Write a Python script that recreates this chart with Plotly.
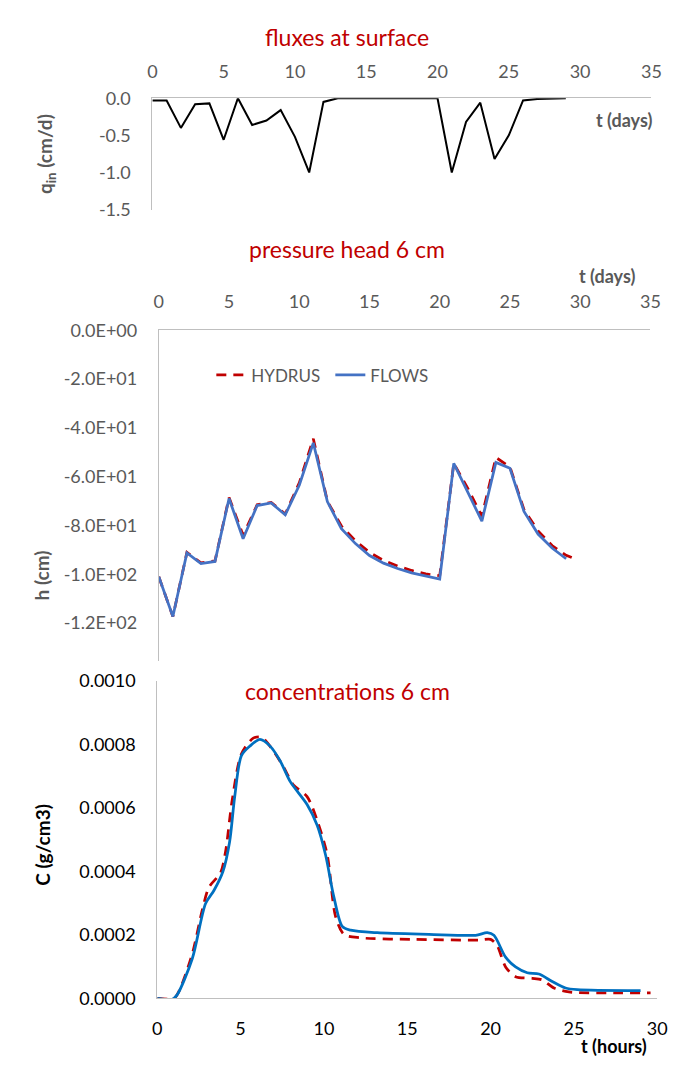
import plotly.graph_objects as go

# ---------------- data ----------------
flux_days = list(range(0, 30))
flux_q = [-0.03, -0.03, -0.40, -0.08, -0.07, -0.56, 0.0, -0.36, -0.30, -0.16,
          -0.52, -1.0, -0.05, 0.0, 0.0, 0.0, 0.0, 0.0, 0.0, 0.0,
          0.0, -1.0, -0.32, -0.06, -0.82, -0.50, -0.03, -0.01, 0.0, 0.0]

h_days_flows = list(range(0, 30))
h_flows = [-101.0, -117.3, -91.2, -95.6, -94.7, -68.9, -85.4, -71.8, -70.7, -75.6,
           -63.5, -46.1, -70.2, -81.3, -87.4, -92.3, -95.4, -97.6, -99.4, -100.7,
           -101.9, -54.5, -66.1, -78.2, -54.1, -56.5, -74.2, -83.5, -89.2, -93.6]
h_days_hydrus = list(range(0, 30)) + [29.6]
h_hydrus = [-101.0, -117.3, -91.0, -95.3, -94.5, -68.5, -84.0, -71.5, -70.5, -75.3,
            -62.5, -44.4, -70.0, -80.2, -86.2, -91.0, -94.3, -96.6, -98.4, -99.8,
            -100.6, -54.5, -64.8, -76.2, -52.1, -56.0, -73.5, -82.2, -88.2, -92.2, -93.6]

c_t_flows = [0, 0.9, 1.2, 2.1, 2.9, 3.4, 3.94, 4.34, 4.65, 5.05, 5.56, 6.16, 6.77, 7.37,
             7.98, 8.99, 9.6, 10.1, 10.6, 11.1, 11.6, 13.2, 16.3, 19.1, 19.8, 20.2, 20.9,
             21.5, 22.2, 22.9, 23.7, 24.5, 25.2, 29.0]
c_flows = [0, -0.000003, 0.000012, 0.000125, 0.000299, 0.00034, 0.0004, 0.000493, 0.000637,
           0.000765, 0.000795, 0.000816, 0.000795, 0.000749, 0.000683, 0.000611, 0.000545,
           0.000452, 0.000319, 0.000227, 0.000215, 0.000207, 0.000202, 0.000199, 0.000207,
           0.000199, 0.00013, 0.0000993, 0.0000809, 0.0000768, 0.0000532, 0.0000328,
           0.0000276, 0.0000246]
c_t_hydrus = [0, 1.0, 1.3, 2.1, 2.7, 3.1, 3.8, 4.1, 4.5, 5.05, 5.76, 6.26, 6.97, 7.58, 8.18,
              8.99, 9.6, 10.2, 10.7, 11.2, 12.2, 15.3, 19.3, 20.0, 20.4, 20.9, 21.5, 22.5,
              23.1, 23.8, 24.7, 27.4, 29.6]
c_hydrus = [0, 0, 0.0000225, 0.00014, 0.000278, 0.00035, 0.000396, 0.000463, 0.000626,
            0.00077, 0.00082, 0.000823, 0.00078, 0.000729, 0.000672, 0.000636, 0.00056,
            0.000452, 0.000258, 0.000202, 0.000191, 0.000186, 0.000184, 0.000186, 0.000166,
            0.0000993, 0.0000686, 0.0000635, 0.0000583, 0.0000328, 0.0000205, 0.0000174,
            0.0000174]

days_ticks = [0, 5, 10, 15, 20, 25, 30, 35]
hours_ticks = [0, 5, 10, 15, 20, 25, 30]
q_ticks = [0.0, -0.5, -1.0, -1.5]
h_ticks = [0, -20, -40, -60, -80, -100, -120]
c_ticks = [0.0, 0.0002, 0.0004, 0.0006, 0.0008, 0.0010]

# ---------------- layout helpers ----------------
W, H = 678, 1077
def xd(x0, x1):
    return [x0 / W, x1 / W]
def yd(top, bottom):
    return [1 - bottom / H, 1 - top / H]
def py(y):
    return 1 - y / H
def px(x):
    return x / W

FONT = "Lato"
GRAY = "#595959"
AX = "#bfbfbf"
RED = "#c00000"

fig = go.Figure()

# top: fluxes
fig.add_trace(go.Scatter(x=flux_days, y=flux_q, mode="lines", line=dict(color="black", width=2),
                         xaxis="x", yaxis="y", showlegend=False, hoverinfo="skip"))
# middle: pressure head
fig.add_trace(go.Scatter(x=h_days_hydrus, y=h_hydrus, mode="lines", name="HYDRUS",
                         line=dict(color=RED, width=2.75, dash="10px,7px"),
                         xaxis="x2", yaxis="y2", hoverinfo="skip"))
fig.add_trace(go.Scatter(x=h_days_flows, y=h_flows, mode="lines", name="FLOWS",
                         line=dict(color="#4472c4", width=2.75),
                         xaxis="x2", yaxis="y2", hoverinfo="skip"))
# bottom: concentrations
fig.add_trace(go.Scatter(x=c_t_hydrus, y=c_hydrus, mode="lines", name="HYDRUS",
                         line=dict(color=RED, width=2.75, dash="10px,7px", shape="spline", smoothing=0.8),
                         xaxis="x3", yaxis="y3", showlegend=False, hoverinfo="skip"))
fig.add_trace(go.Scatter(x=c_t_flows, y=c_flows, mode="lines", name="FLOWS",
                         line=dict(color="#0070c0", width=2.75, shape="spline", smoothing=0.8),
                         xaxis="x3", yaxis="y3", showlegend=False, hoverinfo="skip"))

tickfont_gray = dict(family=FONT, size=18, color=GRAY)
tickfont_black = dict(family=FONT, size=18, color="black")

common_x = dict(showgrid=False, zeroline=False, showline=True, linecolor=AX, linewidth=1,
                ticks="", fixedrange=True)
common_y = dict(showgrid=False, zeroline=False, showline=True, linecolor=AX, linewidth=1,
                ticks="", fixedrange=True)

fig.update_layout(
    width=W, height=H, autosize=False,
    margin=dict(l=0, r=0, t=0, b=0),
    paper_bgcolor="white", plot_bgcolor="white",
    font=dict(family=FONT, color=GRAY),
    xaxis=dict(common_x, domain=xd(150.7, 661), anchor="y", side="top", range=[0, 35],
               tickvals=days_ticks, tickfont=tickfont_gray, ticklabelstandoff=12),
    yaxis=dict(common_y, domain=yd(88, 201.7), anchor="x", range=[-1.5, 0],
               tickvals=q_ticks, ticktext=["0.0", "-0.5", "-1.0", "-1.5"],
               tickfont=tickfont_gray, ticklabelstandoff=17),
    xaxis2=dict(common_x, domain=xd(157.3, 660), anchor="y2", side="top", range=[0, 35],
                tickvals=days_ticks, tickfont=tickfont_gray, ticklabelstandoff=14),
    yaxis2=dict(common_y, domain=yd(325, 663), anchor="x2", range=[-135.7, 0],
                tickvals=h_ticks,
                ticktext=["0.0E+00", "-2.0E+01", "-4.0E+01", "-6.0E+01", "-8.0E+01",
                          "-1.0E+02", "-1.2E+02"],
                tickfont=tickfont_gray, ticklabelstandoff=17),
    xaxis3=dict(common_x, domain=xd(155.7, 667), anchor="y3", side="bottom", range=[0, 30],
                tickvals=hours_ticks, tickfont=tickfont_black, ticklabelstandoff=14),
    yaxis3=dict(common_y, domain=yd(683, 1007), anchor="x3", range=[0, 0.001],
                tickvals=c_ticks, ticktext=["0.0000", "0.0002", "0.0004", "0.0006", "0.0008", "0.0010"],
                tickfont=tickfont_black, ticklabelstandoff=17),
    legend=dict(orientation="h", x=px(211), y=py(371), xanchor="left", yanchor="middle",
                font=dict(family=FONT, size=17, color=GRAY), bgcolor="rgba(0,0,0,0)",
                entrywidth=74, entrywidthmode="pixels"),
    hovermode=False,
)

ann = []
def add_text(x, y, text, size=18, color=GRAY, angle=0, bold=False):
    t = f"<b>{text}</b>" if bold else text
    ann.append(dict(x=px(x), y=py(y), xref="paper", yref="paper", text=t, showarrow=False,
                    textangle=angle, xanchor="center", yanchor="middle",
                    font=dict(family=FONT, size=size, color=color)))

add_text(350, 26, "fluxes at surface", size=23, color=RED)
add_text(350, 242, "pressure head 6 cm", size=23, color=RED)
add_text(350, 693, "concentrations 6 cm", size=23, color=RED)
add_text(633, 110, "t (days)", size=18, bold=True)
add_text(616, 269, "t (days)", size=18, bold=True)
add_text(623, 1056, "t (hours)", size=18, color="black", bold=True)
add_text(42, 145, "q<sub>in</sub> (cm/d)", size=19, angle=-90, bold=True)
add_text(37, 575, "h (cm)", size=19, angle=-90, bold=True)
add_text(38, 850, "C (g/cm3)", size=19, color="black", angle=-90, bold=True)
fig.update_layout(annotations=ann)

fig.write_html(
    "out.html",
    config={"displayModeBar": False, "staticPlot": True},
    post_script="document.body.style.margin='0';document.body.style.padding='0';"
                "document.documentElement.style.overflow='hidden';",
)
